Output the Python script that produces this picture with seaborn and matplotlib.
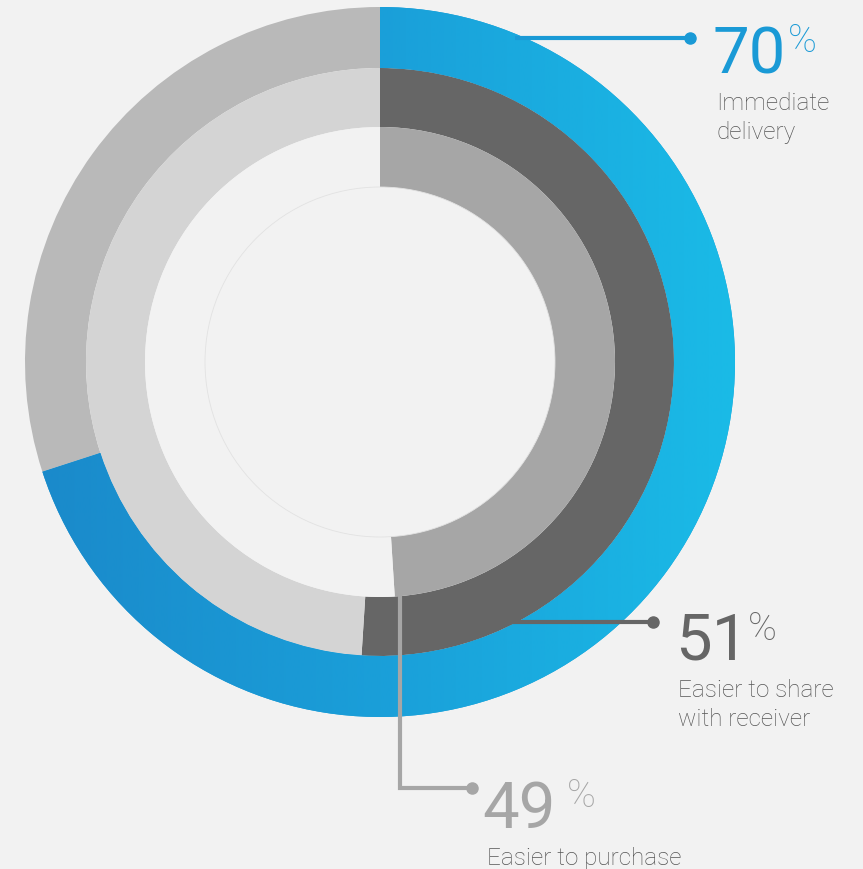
import numpy as np
import matplotlib
matplotlib.use("Agg")
import matplotlib.pyplot as plt
from matplotlib.colors import LinearSegmentedColormap
import seaborn as sns

# ---- data ----
categories = ["Immediate delivery", "Easier to share with receiver", "Easier to purchase"]
values = [70, 51, 49]
value_labels = ["70", "51", "49"]
label_lines = [["Immediate", "delivery"], ["Easier to share", "with receiver"], ["Easier to purchase"]]

sns.set_theme(style="white")
plt.rcParams["font.family"] = ["Roboto", "DejaVu Sans"]

BG = "#f2f2f2"
W, H = 863, 869
fig = plt.figure(figsize=(W / 100, H / 100), dpi=100, facecolor=BG)
ax = fig.add_axes([0, 0, 1, 1])
ax.set_facecolor(BG)

cx, cy = 380, H - 362
ring_outer = [355, 294, 235]
ring_width = [61, 59, 60]
main_colors = ["#1a9bd7", "#666666", "#a6a6a6"]
rest_colors = ["#b9b9b9", "#d4d4d4", BG]

wedges_all = []
for v, r, w, c1, c2 in zip(values, ring_outer, ring_width, main_colors, rest_colors):
    wd, _ = ax.pie([v, 100 - v], colors=[c1, c2], radius=r, center=(cx, cy),
                   startangle=90, counterclock=False,
                   wedgeprops=dict(width=w, linewidth=0, antialiased=True),
                   frame=True)
    wedges_all.append(wd)

# gradient on outer blue wedge
cmap = LinearSegmentedColormap.from_list("bl", ["#1a89ca", "#1a9fd9", "#1abbe7"])
grad = np.linspace(0, 1, 256).reshape(1, -1)
im = ax.imshow(grad, cmap=cmap, extent=(cx - 355, cx + 355, cy - 355, cy + 355),
               aspect="auto", zorder=2, interpolation="bilinear")
im.set_clip_path(wedges_all[0][0])

# faint inner circle outline
circ = plt.Circle((cx, cy), 175, fill=False, color="#e2e2e2", lw=0.6, zorder=3)
ax.add_patch(circ)

# leader lines
blue = "#1a9ad6"
ax.plot([515, 690], [H - 38, H - 38], color=blue, lw=3, zorder=4, solid_capstyle="butt")
ax.plot([690], [H - 38], "o", color=blue, ms=8, zorder=4)
ax.plot([505, 653], [H - 622, H - 622], color="#666666", lw=3, zorder=4, solid_capstyle="butt")
ax.plot([653], [H - 622], "o", color="#666666", ms=8, zorder=4)
ax.plot([400, 400, 472], [H - 592, H - 788, H - 788], color="#a6a6a6", lw=3, zorder=4,
        solid_joinstyle="miter")
ax.plot([472], [H - 788], "o", color="#a6a6a6", ms=8, zorder=4)

# text
num_colors = ["#1a9ad6", "#666666", "#a6a6a6"]
num_pos = [(712, 73), (675, 660), (482, 828)]
pct_pos = [(788, 52), (748, 640), (567, 807)]
lab_pos = [(716, 110), (678, 697), (487, 865)]
for i in range(3):
    x, y = num_pos[i]
    ax.text(x, H - y, value_labels[i], color=num_colors[i], fontsize=47,
            fontweight="normal", ha="left", va="baseline", zorder=5)
    px, py = pct_pos[i]
    ax.text(px, H - py, "%", color=num_colors[i], fontsize=28,
            fontweight="light", ha="left", va="baseline", zorder=5)
    lx, ly = lab_pos[i]
    for j, line in enumerate(label_lines[i]):
        ax.text(lx, H - ly - j * 29, line, color="#555555", fontsize=17.5,
                fontweight="light", ha="left", va="baseline", zorder=5)

ax.set_xlim(0, W)
ax.set_ylim(0, H)
ax.set_aspect("auto")
ax.axis("off")

fig.savefig("out.png", dpi=100, facecolor=BG)
